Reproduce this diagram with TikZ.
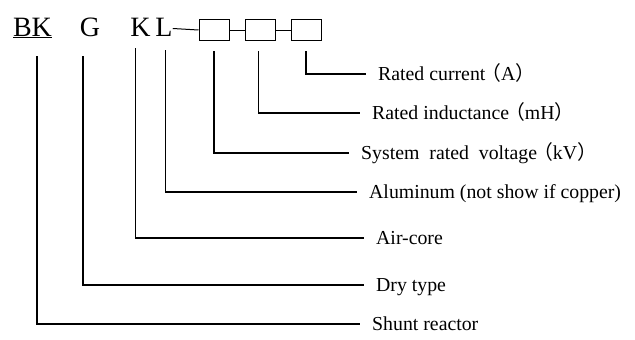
\documentclass[tikz,border=0pt]{standalone}
\usepackage{fontspec}
\setmainfont{Liberation Serif}
\newfontfamily\cjk{Noto Sans CJK SC}
\newcommand{\lpar}{\makebox[0.8em][r]{\cjk （}}
\newcommand{\rpar}{\makebox[0.6em][l]{\cjk ）}}
\usetikzlibrary{positioning}

\begin{document}
\begin{tikzpicture}[x=1pt, y=-1pt,
        code/.style={inner sep=0pt, anchor=base, font=\fontsize{28}{28}\selectfont, text height=19pt, text depth=4pt},
        cell/.style={draw, line width=1pt, minimum width=30pt, minimum height=21pt, inner sep=0pt},
        link/.style={line width=1pt},
        lead/.style={line width=1.5pt, shorten <=10pt, shorten >=12pt},
        note/.style={inner sep=0pt, anchor=west, font=\fontsize{19.8}{20}\selectfont, text height=17pt, text depth=4.5pt}
    ]
        \useasboundingbox (0,0) rectangle (635,340);

        % model code
        \node[code] (bk) at (32.5,36) {\underline{BK}};
        \node[code] (g) at (90,36) {G};
        \node[code] (k) at (140.5,36) {K};
        \node[code] (l) at (164,36) {L};
        \node[cell] (b1) at (214,30) {};
        \node[cell] (b2) at (260,30) {};
        \node[cell] (b3) at (306,30) {};

        \draw[link] (l.east) -- (b1.west);
        \draw[link] (b1.east) -- (b2.west);
        \draw[link] (b2.east) -- (b3.west);

        % meanings
        \node[note] (amp) at (378,74) {Rated current\lpar A\rpar};
        \node[note] (mh) at (372,113) {Rated inductance\lpar mH\rpar};
        \node[note] (kv) at (361,153) {System~~rated~~voltage\lpar kV\rpar};
        \node[note] (al) at (369,192) {Aluminum (not show if copper)};
        \node[note] (air) at (376,238) {Air-core};
        \node[note] (dry) at (376,285) {Dry type};
        \node[note] (shunt) at (372,324) {Shunt reactor};

        \draw[lead] (b3.south) |- (amp.west);
        \draw[lead] ([xshift=-1.5pt]b2.south) |- (mh.west);
        \draw[lead] (b1.south) |- (kv.west);
        \draw[lead] ([xshift=1.5pt]l.south) |- (al.west);
        \draw[lead, shorten <=8pt] ([xshift=-5pt]k.south) |- (air.west);
        \draw[lead, shorten <=16pt] ([xshift=-7pt]g.south) |- (dry.west);
        \draw[lead, shorten <=16pt] ([xshift=4.5pt]bk.south) |- (shunt.west);
    \end{tikzpicture}
\end{document}
